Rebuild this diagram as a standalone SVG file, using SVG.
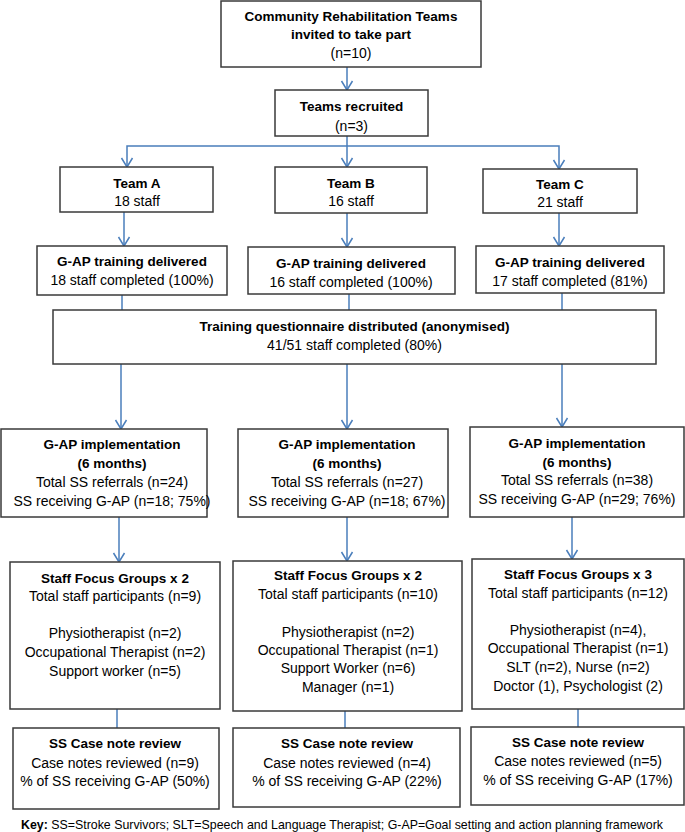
<svg xmlns="http://www.w3.org/2000/svg" width="685" height="832" viewBox="0 0 685 832">
<defs>
<style>
.box{fill:#fff;stroke:#3a3a3a;stroke-width:1.5}
.t{font-family:"Liberation Sans",Arial,sans-serif;font-size:14px;fill:#000;text-anchor:middle}
.b{font-weight:bold;font-size:13.5px}
.c{fill:none;stroke:#4a7ebb;stroke-width:1.5}
.a{marker-end:url(#arr)}
.k{font-family:"Liberation Sans",Arial,sans-serif;font-size:12.8px;fill:#000}
</style>
<marker id="arr" markerUnits="userSpaceOnUse" markerWidth="14" markerHeight="14" viewBox="0 0 14 14" refX="12" refY="7" orient="auto">
<path d="M3,1.5 L12,7 L3,12.5" fill="none" stroke="#4a7ebb" stroke-width="1.5"/>
</marker>
</defs>
<rect width="685" height="832" fill="#fff"/>
<g id="connectors">
<line class="c a" x1="347" y1="67" x2="347" y2="90"/>
<line class="c a" x1="347" y1="136" x2="347" y2="167"/>
<path class="c a" d="M347,146 H127 V167"/>
<path class="c a" d="M347,146 H559 V169"/>
<line class="c a" x1="124" y1="212" x2="124" y2="246"/>
<line class="c a" x1="347" y1="213" x2="347" y2="247"/>
<line class="c a" x1="559" y1="213" x2="559" y2="246"/>
<line class="c" x1="122" y1="295" x2="122" y2="310"/>
<line class="c" x1="349" y1="294" x2="349" y2="310"/>
<line class="c" x1="562" y1="293" x2="562" y2="310"/>
<line class="c a" x1="121" y1="364" x2="121" y2="429"/>
<line class="c a" x1="347" y1="364" x2="347" y2="429"/>
<line class="c a" x1="562" y1="364" x2="562" y2="427"/>
<line class="c a" x1="119" y1="517" x2="119" y2="562"/>
<line class="c a" x1="347" y1="517" x2="347" y2="561"/>
<line class="c a" x1="572" y1="517" x2="572" y2="559"/>
<line class="c" x1="117" y1="709" x2="117" y2="728"/>
<line class="c" x1="345" y1="711" x2="345" y2="728"/>
<line class="c" x1="578" y1="709" x2="578" y2="727"/>
</g>
<g id="invited">
<rect class="box" x="221" y="1" width="260" height="66"/>
<text class="t b" x="351" y="21">Community Rehabilitation Teams</text>
<text class="t b" x="351" y="39">invited to take part</text>
<text class="t" x="351" y="58">(n=10)</text>
</g>
<g id="recruited">
<rect class="box" x="275" y="90" width="153" height="46"/>
<text class="t b" x="351.5" y="111">Teams recruited</text>
<text class="t" x="351.5" y="131">(n=3)</text>
</g>
<g id="teamA">
<rect class="box" x="60" y="167" width="153" height="45"/>
<text class="t b" x="137" y="188">Team A</text>
<text class="t" x="137" y="206">18 staff</text>
</g>
<g id="teamB">
<rect class="box" x="275" y="167" width="152" height="46"/>
<text class="t b" x="351" y="188">Team B</text>
<text class="t" x="351" y="206">16 staff</text>
</g>
<g id="teamC">
<rect class="box" x="483" y="169" width="154" height="44"/>
<text class="t b" x="560" y="189">Team C</text>
<text class="t" x="560" y="207">21 staff</text>
</g>
<g id="trainingA">
<rect class="box" x="37" y="246" width="190" height="49"/>
<text class="t b" x="132" y="266">G-AP training delivered</text>
<text class="t" x="132" y="285">18 staff completed (100%)</text>
</g>
<g id="trainingB">
<rect class="box" x="248" y="247" width="207" height="47"/>
<text class="t b" x="351" y="268">G-AP training delivered</text>
<text class="t" x="351" y="287">16 staff completed (100%)</text>
</g>
<g id="trainingC">
<rect class="box" x="476" y="246" width="188" height="47"/>
<text class="t b" x="570" y="267">G-AP training delivered</text>
<text class="t" x="570" y="286">17 staff completed (81%)</text>
</g>
<g id="questionnaire">
<rect class="box" x="53" y="310" width="603" height="54"/>
<text class="t b" x="354.5" y="331">Training questionnaire distributed (anonymised)</text>
<text class="t" x="354.5" y="350">41/51 staff completed (80%)</text>
</g>
<g id="implA">
<rect class="box" x="1" y="429" width="206" height="88"/>
<text class="t b" x="112" y="449">G-AP implementation</text>
<text class="t b" x="112" y="468">(6 months)</text>
<text class="t" x="112" y="487">Total SS referrals (n=24)</text>
<text class="t" x="112" y="506">SS receiving G-AP (n=18; 75%)</text>
</g>
<g id="implB">
<rect class="box" x="238" y="429" width="210" height="88"/>
<text class="t b" x="347" y="449">G-AP implementation</text>
<text class="t b" x="347" y="468">(6 months)</text>
<text class="t" x="347" y="487">Total SS referrals (n=27)</text>
<text class="t" x="347" y="506">SS receiving G-AP (n=18; 67%)</text>
</g>
<g id="implC">
<rect class="box" x="470" y="427" width="214" height="90"/>
<text class="t b" x="577" y="448">G-AP implementation</text>
<text class="t b" x="577" y="467">(6 months)</text>
<text class="t" x="577" y="485">Total SS referrals (n=38)</text>
<text class="t" x="577" y="504">SS receiving G-AP (n=29; 76%)</text>
</g>
<g id="focusA">
<rect class="box" x="10" y="562" width="210" height="147"/>
<text class="t b" x="115" y="583">Staff Focus Groups x 2</text>
<text class="t" x="115" y="601">Total staff participants (n=9)</text>
<text class="t" x="115" y="638">Physiotherapist (n=2)</text>
<text class="t" x="115" y="657">Occupational Therapist (n=2)</text>
<text class="t" x="115" y="676">Support worker (n=5)</text>
</g>
<g id="focusB">
<rect class="box" x="233" y="561" width="229" height="150"/>
<text class="t b" x="348" y="580">Staff Focus Groups x 2</text>
<text class="t" x="348" y="599">Total staff participants (n=10)</text>
<text class="t" x="348" y="637">Physiotherapist (n=2)</text>
<text class="t" x="348" y="655">Occupational Therapist (n=1)</text>
<text class="t" x="348" y="673">Support Worker (n=6)</text>
<text class="t" x="348" y="692">Manager (n=1)</text>
</g>
<g id="focusC">
<rect class="box" x="472" y="559" width="212" height="150"/>
<text class="t b" x="578" y="579">Staff Focus Groups x 3</text>
<text class="t" x="578" y="598">Total staff participants (n=12)</text>
<text class="t" x="578" y="635">Physiotherapist (n=4),</text>
<text class="t" x="578" y="653">Occupational Therapist (n=1)</text>
<text class="t" x="578" y="672">SLT (n=2), Nurse (n=2)</text>
<text class="t" x="578" y="691">Doctor (1), Psychologist (2)</text>
</g>
<g id="caseA">
<rect class="box" x="13" y="728" width="206" height="81"/>
<text class="t b" x="115" y="748">SS Case note review</text>
<text class="t" x="115" y="768">Case notes reviewed (n=9)</text>
<text class="t" x="115" y="786">% of SS receiving G-AP (50%)</text>
</g>
<g id="caseB">
<rect class="box" x="233" y="728" width="227" height="79"/>
<text class="t b" x="347" y="748">SS Case note review</text>
<text class="t" x="347" y="768">Case notes reviewed (n=4)</text>
<text class="t" x="347" y="786">% of SS receiving G-AP (22%)</text>
</g>
<g id="caseC">
<rect class="box" x="471" y="727" width="213" height="78"/>
<text class="t b" x="578" y="747">SS Case note review</text>
<text class="t" x="578" y="766">Case notes reviewed (n=5)</text>
<text class="t" x="578" y="785">% of SS receiving G-AP (17%)</text>
</g>
<g id="key">
<text class="k" x="21" y="829" textLength="642" lengthAdjust="spacingAndGlyphs"><tspan font-weight="bold">Key:</tspan> SS=Stroke Survivors; SLT=Speech and Language Therapist; G-AP=Goal setting and action planning framework</text>
</g>
</svg>
